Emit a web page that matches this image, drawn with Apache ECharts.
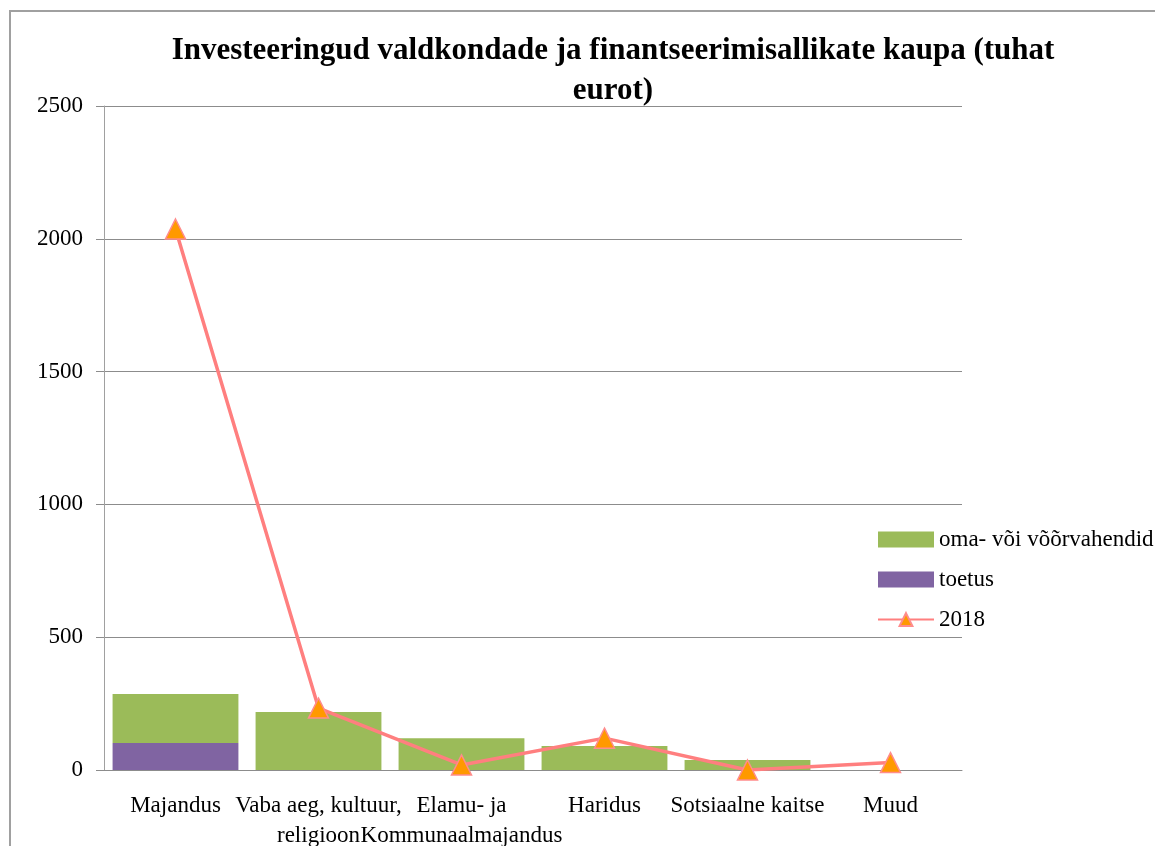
<!DOCTYPE html>
<html>
<head>
<meta charset="utf-8">
<script src="https://cdn.jsdelivr.net/npm/echarts@6/dist/echarts.min.js"></script>
<style>
  html, body { margin: 0; padding: 0; background: #fff; }
  #frame { position: absolute; left: 9px; top: 10px; width: 1200px; height: 900px;
    border-left: 2px solid #a0a0a0; border-top: 2px solid #a0a0a0; }
  #chart { position: absolute; left: 0; top: 0; width: 1155px; height: 846px; }
</style>
</head>
<body>
<div id="frame"></div>
<div id="chart"></div>
<script>
// categories and values (tuhat eurot)
const categories = ['Majandus', 'Vaba aeg, kultuur,\nreligioon', 'Elamu- ja\nKommunaalmajandus', 'Haridus', 'Sotsiaalne kaitse', 'Muud'];
const toetus = [102, 0, 0, 0, 0, 0];
const omaVahendid = [184, 218, 120, 90, 38, 0];
const total2018 = [2037, 233, 19, 120, 0, 28];

const font = 'Liberation Serif';

const chart = echarts.init(document.getElementById('chart'));
const option = {
  animation: false,
  textStyle: { fontFamily: font },
  title: {
    text: 'Investeeringud valdkondade ja finantseerimisallikate kaupa (tuhat\neurot)',
    left: 608,
    textAlign: 'center',
    top: 26,
    textStyle: { fontFamily: font, fontSize: 31, fontWeight: 'bold', color: '#000', lineHeight: 40 }
  },
  legend: {
    orient: 'vertical',
    left: 872,
    top: 523,
    itemWidth: 56,
    itemHeight: 16,
    itemGap: 17,
    textStyle: { fontFamily: font, fontSize: 23, color: '#000' },
    data: [
      { name: 'oma- või võõrvahendid', icon: 'rect' },
      { name: 'toetus', icon: 'rect' },
      { name: '2018' }
    ]
  },
  grid: { left: 104, right: 193, top: 106, bottom: 76, containLabel: false, outerBoundsMode: 'none' },
  xAxis: {
    type: 'category',
    data: categories,
    axisLine: { lineStyle: { color: '#8c8c8c', width: 1 } },
    axisTick: { length: 8, lineStyle: { color: '#8c8c8c' } },
    axisLabel: { fontFamily: font, fontSize: 23, color: '#000', margin: 21, lineHeight: 30, interval: 0 }
  },
  yAxis: {
    type: 'value',
    min: 0,
    max: 2500,
    interval: 500,
    axisLine: { show: true, lineStyle: { color: '#a0a0a0', width: 1 } },
    axisTick: { show: true, length: 8, lineStyle: { color: '#8c8c8c' } },
    axisLabel: { fontFamily: font, fontSize: 23, color: '#000', margin: 21, formatter: v => String(v) },
    splitLine: { lineStyle: { color: '#8c8c8c', width: 1 } }
  },
  series: [
    {
      name: 'toetus',
      type: 'bar',
      stack: 'kokku',
      barCategoryGap: '12%',
      itemStyle: { color: '#8064A2' },
      data: toetus
    },
    {
      name: 'oma- või võõrvahendid',
      type: 'bar',
      stack: 'kokku',
      barCategoryGap: '12%',
      itemStyle: { color: '#9BBB59' },
      data: omaVahendid
    },
    {
      name: '2018',
      type: 'line',
      symbol: 'triangle',
      symbolSize: 20,
      lineStyle: { color: '#FF7F7F', width: 3.5 },
      itemStyle: { color: '#FF9900', borderColor: '#FF8C8C', borderWidth: 1.5 },
      data: total2018,
      z: 5
    }
  ]
};
chart.setOption(option);
</script>
</body>
</html>
